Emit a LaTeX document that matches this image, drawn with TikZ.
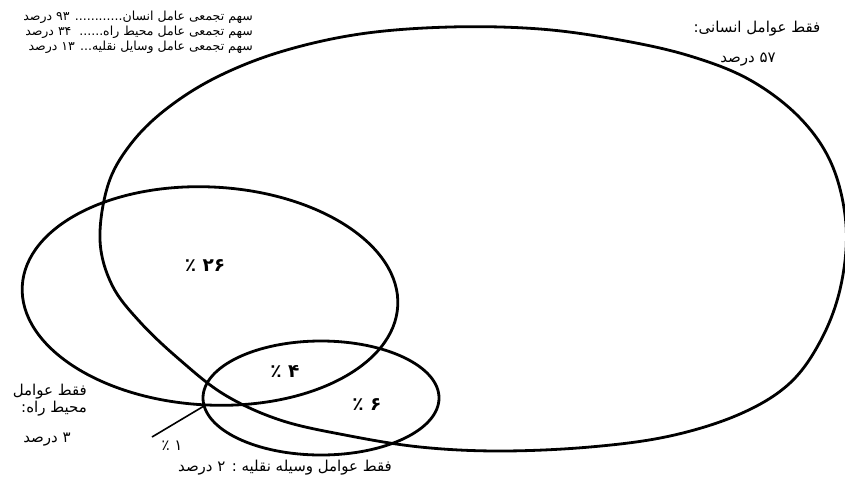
\documentclass[tikz,border=0pt]{standalone}
\usepackage{fontspec}
\newfontfamily\farsi[Script=Arabic]{DejaVu Sans}
\TeXXeTstate=1
\begin{document}
\begin{tikzpicture}[x=1pt,y=-1pt,
        ring/.style={line width=2.8pt},
        lbl/.style={font=\farsi\fontsize{15}{17}\selectfont,inner sep=0pt},
        pct/.style={font=\farsi\bfseries\fontsize{18.5}{20}\selectfont,inner sep=0pt},
        small/.style={font=\farsi\fontsize{12.5}{15}\selectfont,inner sep=0pt,align=right}]
        \useasboundingbox (0,0) rectangle (845,482);

        %ellisse fattori umani
        \draw[ring] plot[smooth cycle,tension=0.6] coordinates {(100,240) (108,185) (130,145)
              (165,110) (215,78) (280,52) (360,34) (450,27) (540,29) (620,40) (690,56)
              (750,80) (800,118) (832,165) (846,225) (841,285) (822,338) (790,383)
              (740,414) (670,436) (590,447) (500,451) (420,447) (345,435) (280,420)
              (225,395) (180,360) (140,322) (112,285)};
        %ellisse fattori ambiente
        \draw[ring,rotate around={-3:(210,296)}] (210,296) ellipse [x radius=188, y radius=109];
        %ellisse fattori veicolo
        \draw[ring] (321,398) ellipse [x radius=118, y radius=57];

        %freccia 1 percento
        \coordinate (ptrfoot) at (152,437);
        \coordinate (ptrtip) at (204,406);
        \draw[line width=1.6pt] (ptrfoot) -- (ptrtip);

        %legenda
        \node[small,anchor=east] (legend) at (253,32)
              {\beginR سهم تجمعی عامل انسان............ ۹۳ درصد\endR\\
               \beginR سهم تجمعی عامل محیط راه......\ \ ۳۴ درصد\endR\\
               \beginR سهم تجمعی عامل وسایل نقلیه... ۱۳ درصد\endR};

        %etichette
        \node[lbl] (humtitle) at (757,29) {\beginR فقط عوامل انسانی:\endR};
        \node[lbl] (humval) at (748,60) {\beginR ۵۷ درصد\endR};
        \node[lbl,align=right,anchor=east] (roadtitle) at (87,400)
              {\beginR فقط عوامل\endR\\\beginR محیط راه:\endR};
        \node[lbl] (roadval) at (47,440) {\beginR ۳ درصد\endR};
        \node[lbl] (vehtitle) at (285,468) {\beginR فقط عوامل وسیله نقلیه : ۲ درصد\endR};

        %percentuali
        \node[pct] (pcttwsix) at (205,266) {٪ ۲۶};
        \node[pct] (pctfour) at (285,371) {٪ ۴};
        \node[pct] (pctsix) at (367,405) {٪ ۶};
        \node[lbl] (pctone) at (172,446) {٪ ۱};
\end{tikzpicture}
\end{document}
